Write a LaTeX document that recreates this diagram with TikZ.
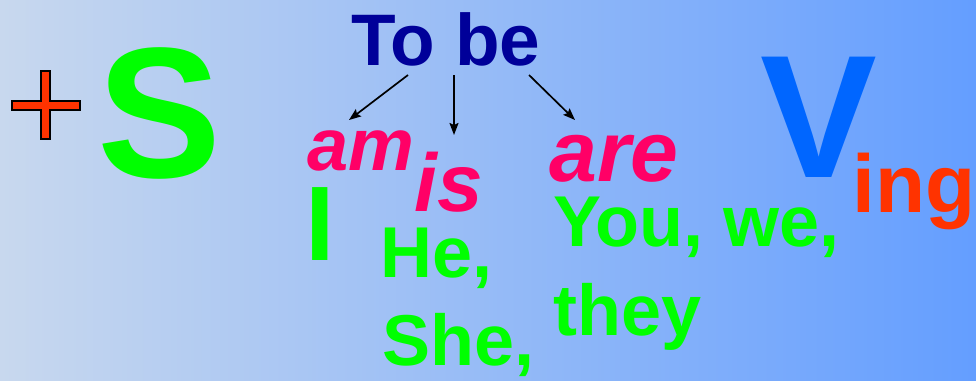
\documentclass[tikz,border=0pt]{standalone}
\usepackage{fontspec}
\setmainfont{Liberation Sans}
\usepackage{xcolor}
\usetikzlibrary{arrows.meta}

\definecolor{bgleft}{RGB}{200,216,238}
\definecolor{bgmid}{RGB}{128,184,255}
\definecolor{bgright}{RGB}{100,158,255}
\definecolor{subjgreen}{RGB}{0,255,0}
\definecolor{bepink}{RGB}{255,0,102}
\definecolor{bedark}{RGB}{0,0,153}
\definecolor{verbblue}{RGB}{0,102,255}
\definecolor{plusred}{RGB}{255,51,0}

\begin{document}
\begin{tikzpicture}[
    x=1pt, y=-1pt,
    word/.style={inner sep=0pt, anchor=base west, font=\bfseries},
    subj/.style={word, text=subjgreen},
    beform/.style={word, text=bepink, font=\bfseries\itshape\fontsize{82}{82}\selectfont},
    arrow/.style={-{Stealth[length=12pt, width=9pt, inset=2pt]}, line width=1.7pt, draw=black}
]

% Background
\useasboundingbox (0,0) rectangle (976,380);
\shade[left color=bgleft, middle color=bgmid, right color=bgright] (0,0) rectangle (976,380);

% Plus sign
\draw[fill=plusred, line width=1.5pt, draw=black]
    (41,71) -- (50,71) -- (50,101) -- (80,101) -- (80,110) -- (50,110) -- (50,139)
    -- (41,139) -- (41,110) -- (12,110) -- (12,101) -- (41,101) -- cycle;

% Subject and verb
\node[subj, font=\bfseries\fontsize{186}{186}\selectfont] (bigs) at (97,177) {S};
\node[word, text=verbblue, font=\bfseries\fontsize{175}{175}\selectfont] (bigv) at (760,177) {V};
\node[word, text=plusred, font=\bfseries\fontsize{82}{82}\selectfont] (ing) at (852,212) {ing};

% To be and its forms
\node[word, text=bedark, font=\bfseries\fontsize{73}{73}\selectfont] (tobe) at (351,65) {To be};
\node[beform, font=\bfseries\itshape\fontsize{74}{74}\selectfont] (am) at (307,170) {am};
\node[beform] (is) at (414,211) {is};
\node[beform, font=\bfseries\itshape\fontsize{86}{86}\selectfont] (are) at (549,181) {are};

% Pronouns
\node[subj, font=\bfseries\fontsize{106}{106}\selectfont] (pi) at (305,260) {I};
\node[subj, font=\bfseries\fontsize{72}{72}\selectfont] (phe) at (380,277) {He,};
\node[subj, font=\bfseries\fontsize{72}{72}\selectfont] (pshe) at (382,365) {She,};
\node[subj, font=\bfseries\fontsize{72}{72}\selectfont] (pyou) at (553,246) {You, we,};
\node[subj, font=\bfseries\fontsize{72}{72}\selectfont] (pthey) at (553,335) {they};

% Arrows from To be
\coordinate (tobe_l) at (408,75);
\coordinate (tobe_m) at (454,75);
\coordinate (tobe_r) at (529,75);
\coordinate (am_top) at (349,120);
\coordinate (is_top) at (454,135);
\coordinate (are_top) at (575,120);
\draw[arrow] (tobe_l) -- (am_top);
\draw[arrow] (tobe_m) -- (is_top);
\draw[arrow] (tobe_r) -- (are_top);

\end{tikzpicture}
\end{document}
